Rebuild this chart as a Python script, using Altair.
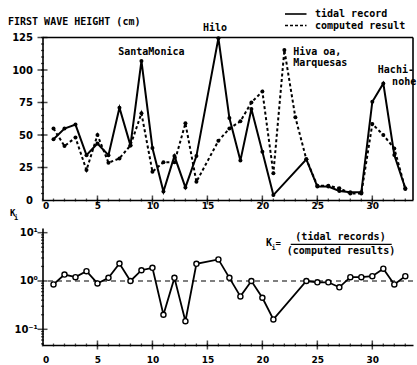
import altair as alt
import pandas as pd

# ---- data -------------------------------------------------------------
# first wave height (cm) recorded by tide gauges, per station number
tidal_x = [1, 2, 3, 4, 5, 6, 7, 8, 9, 10, 11, 12, 13, 14, 16, 17, 18, 19, 20, 21,
           24, 25, 26, 27, 28, 29, 30, 31, 32, 33]
tidal_h = [46.7, 55, 58, 34.5, 43.5, 34.5, 71, 42, 107, 40, 6.5, 33.8, 9.7, 33.8,
           124.5, 63, 30.3, 70, 37.2, 3.8, 31.3, 10.3, 10.3, 6.9, 5.9, 5.9, 75.6,
           89.7, 34.6, 9]

# first wave height (cm) from the numerical computation
comp_x = [1, 2, 3, 4, 5, 6, 7, 8, 9, 10, 11, 12, 13, 14, 16, 17, 18, 19, 20, 21,
          22, 23, 24, 25, 26, 27, 28, 29, 30, 31, 32, 33]
comp_h = [55, 41.5, 48, 23, 50, 28.7, 32, 42, 66.7, 21.8, 29, 29, 59, 14, 45.5,
          55, 60.5, 75, 83.5, 20.5, 115.4, 63.6, 31.3, 11, 11, 9, 5, 5, 58.5, 50,
          39.7, 8.5]

# K_i = tidal record / computed result
k_x = [1, 2, 3, 4, 5, 6, 7, 8, 9, 10, 11, 12, 13, 14, 16, 17, 18, 19, 20, 21,
       24, 25, 26, 27, 28, 29, 30, 31, 32, 33]
k_val = [0.85, 1.36, 1.2, 1.6, 0.89, 1.16, 2.3, 1.0, 1.67, 1.87, 0.2, 1.16, 0.147,
         2.27, 2.8, 1.16, 0.48, 1.0, 0.45, 0.16, 1.0, 0.94, 0.94, 0.74, 1.2, 1.2,
         1.26, 1.8, 0.85, 1.26]

# station name labels (placed in data units)
stations = ["SantaMonica", "Hilo", "Hiva oa,", "Marquesas", "Hachi-", "nohe"]
station_x = [9.9, 15.7, 22.8, 22.8, 30.5, 31.8]
station_y = [114, 132, 113.8, 105.4, 100, 90.8]
station_align = ["center", "center", "left", "left", "left", "left"]

x_labels = [0, 5, 10, 15, 20, 25, 30]
h_labels = [0, 25, 50, 75, 100, 125]
k_labels = [0.1, 1, 10]

# ---- layout constants ---------------------------------------------------
W, H = 370.5, 307.5          # whole plot area (both panels)
TOP_H = 162.5                # height of the wave-height panel
K_TOP, K_BOT = 190.5, 307.5  # pixel span of the K_i panel
X_MAX = 33.7
K_MIN = 0.0473
FONT = "DejaVu Sans"
MONO = "DejaVu Sans Mono"

tidal = pd.DataFrame({"x": tidal_x, "h": tidal_h})
comp = pd.DataFrame({"x": comp_x, "h": comp_h})
kdf = pd.DataFrame({"x": k_x, "k": k_val})
lab = pd.DataFrame({"name": stations, "x": station_x, "y": station_y,
                    "align": station_align})
one = pd.DataFrame({"n": [0]})

x_minor = pd.DataFrame({"t": list(range(0, 34))})
x_major = pd.DataFrame({"t": [5, 10, 15, 20, 25, 30]})
h_minor = pd.DataFrame({"t": list(range(5, 126, 5))})
h_major = pd.DataFrame({"t": [25, 50, 75, 100, 125]})
k_minor = pd.DataFrame({"t": [0.05, 0.06, 0.07, 0.08, 0.09] +
                             [m / 10 for m in range(2, 10)] + list(range(2, 10))})
k_major = pd.DataFrame({"t": k_labels})

xscale = alt.Scale(domain=[0, X_MAX], nice=False, zero=False)
hscale = alt.Scale(domain=[0, 125], range=[TOP_H, 0], nice=False)
kscale = alt.Scale(type="log", domain=[K_MIN, 12.5], range=[K_BOT, K_TOP], nice=False)

top_xaxis = alt.Axis(values=x_labels, tickSize=0, labelPadding=1, offset=-(H - TOP_H),
                     labelFont=FONT, labelFontSize=9, labelFontWeight="bold",
                     domainWidth=1.6, grid=False, title=None, orient="bottom")
bot_xaxis = alt.Axis(values=x_labels, tickSize=0, labelPadding=10,
                     labelFont=FONT, labelFontSize=9, labelFontWeight="bold",
                     domainWidth=1.6, grid=False, title=None, orient="bottom")
h_axis = alt.Axis(values=h_labels, tickSize=0, labelPadding=10, orient="left",
                  labelFont=FONT, labelFontSize=10, labelFontWeight="bold",
                  domainWidth=1.6, grid=False, title=None)
k_axis = alt.Axis(values=k_labels, tickSize=0, labelPadding=5, orient="left",
                  labelExpr="datum.value == 10 ? '10¹' : (datum.value == 1 ? '10⁰' : '10⁻¹')",
                  labelFont=FONT, labelFontSize=10, labelFontWeight="bold",
                  domainWidth=1.6, grid=False, title=None)


def TX(field=None, datum=None):
    if datum is not None:
        return alt.X(datum=datum, type="quantitative", scale=xscale, axis=top_xaxis)
    return alt.X(field, type="quantitative", scale=xscale, axis=top_xaxis)


def TY(field=None, datum=None):
    if datum is not None:
        return alt.Y(datum=datum, type="quantitative", scale=hscale, axis=h_axis)
    return alt.Y(field, type="quantitative", scale=hscale, axis=h_axis)


def BX(field=None, datum=None):
    if datum is not None:
        return alt.X(datum=datum, type="quantitative", scale=xscale, axis=bot_xaxis)
    return alt.X(field, type="quantitative", scale=xscale, axis=bot_xaxis)


def BY(field=None, datum=None):
    if datum is not None:
        return alt.Y(datum=datum, type="quantitative", scale=kscale, axis=k_axis)
    return alt.Y(field, type="quantitative", scale=kscale, axis=k_axis)


# ---- wave-height panel ---------------------------------------------------
tidal_line = alt.Chart(tidal).mark_line(color="black", strokeWidth=2).encode(
    x=TX("x"), y=TY("h"))
comp_line = alt.Chart(comp).mark_line(color="black", strokeWidth=2,
                                      strokeDash=[3, 2.5]).encode(x=TX("x"), y=TY("h"))
tidal_pts = alt.Chart(tidal).mark_circle(color="black", size=16, opacity=1).encode(
    x=TX("x"), y=TY("h"))
comp_pts = alt.Chart(comp).mark_circle(color="black", size=16, opacity=1).encode(
    x=TX("x"), y=TY("h"))

top_border = alt.Chart(one).mark_rule(color="black", strokeWidth=1.6).encode(
    x=TX(datum=0), x2=alt.X2(datum=X_MAX), y=TY(datum=125))
right_border = alt.Chart(one).mark_rule(color="black", strokeWidth=1.6).encode(
    x=TX(datum=X_MAX), y=TY(datum=0), y2=alt.Y2(datum=125))

tx_minor = alt.Chart(x_minor).mark_tick(color="black", orient="vertical", size=3,
                                         thickness=1.3).encode(x=TX("t"), y=TY(datum=0))
tx_major = alt.Chart(x_major).mark_tick(color="black", orient="vertical", size=9,
                                         thickness=1.5).encode(x=TX("t"), y=TY(datum=0))
ty_minor = alt.Chart(h_minor).mark_tick(color="black", orient="horizontal", size=3,
                                         thickness=1.3).encode(x=TX(datum=0), y=TY("t"))
ty_major = alt.Chart(h_major).mark_tick(color="black", orient="horizontal", size=10,
                                         thickness=1.5).encode(x=TX(datum=0), y=TY("t"))

station_base = alt.Chart(lab).encode(x=TX("x"), y=TY("y"), text="name:N")
station_center = station_base.mark_text(
    font=MONO, fontSize=10, fontWeight="bold", color="black", baseline="middle",
    align="center").transform_filter(alt.datum.align == "center")
station_left = station_base.mark_text(
    font=MONO, fontSize=10, fontWeight="bold", color="black", baseline="middle",
    align="left").transform_filter(alt.datum.align == "left")

top_panel = alt.layer(top_border, right_border, comp_line, tidal_line, comp_pts,
                      tidal_pts, tx_minor, tx_major, ty_minor, ty_major,
                      station_center, station_left)

# ---- K_i panel -----------------------------------------------------------
unity = alt.Chart(one).mark_rule(color="black", strokeWidth=1.1,
                                 strokeDash=[5, 4]).encode(y=BY(datum=1))
k_line = alt.Chart(kdf).mark_line(color="black", strokeWidth=1.8).encode(
    x=BX("x"), y=BY("k"))
k_pts = alt.Chart(kdf).mark_point(color="black", fill="white", filled=False, size=26,
                                  strokeWidth=1.4, opacity=1).encode(x=BX("x"), y=BY("k"))
bx_minor = alt.Chart(x_minor).mark_tick(color="black", orient="vertical", size=3,
                                         thickness=1.3).encode(x=BX("t"), y=BY(datum=K_MIN))
bx_major = alt.Chart(x_major).mark_tick(color="black", orient="vertical", size=9,
                                         thickness=1.5).encode(x=BX("t"), y=BY(datum=K_MIN))
ky_minor = alt.Chart(k_minor).mark_tick(color="black", orient="horizontal", size=3,
                                         thickness=1.3).encode(x=BX(datum=0), y=BY("t"))
ky_major = alt.Chart(k_major).mark_tick(color="black", orient="horizontal", size=10,
                                         thickness=1.5).encode(x=BX(datum=0), y=BY("t"))

bottom_panel = alt.layer(unity, k_line, k_pts, bx_minor, bx_major, ky_minor, ky_major)


# ---- free-standing text: title, legend, formula ---------------------------
def label(txt, x, y, size=10, align="left", font=MONO):
    return alt.Chart(one).mark_text(text=txt, font=font, fontSize=size,
                                    fontWeight="bold", color="black", align=align,
                                    baseline="middle").encode(
        x=alt.value(x), y=alt.value(y))


def seg(x1, x2, y, dash=None, width=1.6):
    kw = dict(color="black", strokeWidth=width)
    if dash:
        kw["strokeDash"] = dash
    return alt.Chart(one).mark_rule(**kw).encode(
        x=alt.value(x1), x2=alt.value(x2), y=alt.value(y))


texts = alt.layer(
    label("FIRST WAVE HEIGHT (cm)", -34.5, -15.5),
    seg(242.5, 264, -23.5, width=1.6),
    seg(242.5, 264, -12, dash=[3, 2], width=1.6),
    label("tidal record", 272.5, -23.5),
    label("computed result", 272.5, -11.5),
    label("K", -32.5, 175.5, size=9),
    label("i", -28.5, 180.5, size=7),
    label("K", 223.5, 205.8, size=10),
    label("i", 229, 210.5, size=7),
    label("=", 233, 205.5, size=9),
    label("(tidal records)", 298, 199.2, align="center"),
    seg(248.2, 349.2, 206.8, width=1.2),
    label("(computed results)", 298.5, 213.5, align="center"),
)

chart = alt.layer(
    top_panel,
    bottom_panel,
    texts,
).resolve_scale(x="independent", y="independent").properties(
    width=W, height=H,
    autosize=alt.AutoSizeParams(type="none"),
    padding={"left": 42.5, "top": 37.5, "right": 4, "bottom": 20},
    background="white",
).configure_view(stroke=None).configure_axis(domainColor="black", labelColor="black")

chart.save("out.html", embed_options={"renderer": "svg", "actions": False})
